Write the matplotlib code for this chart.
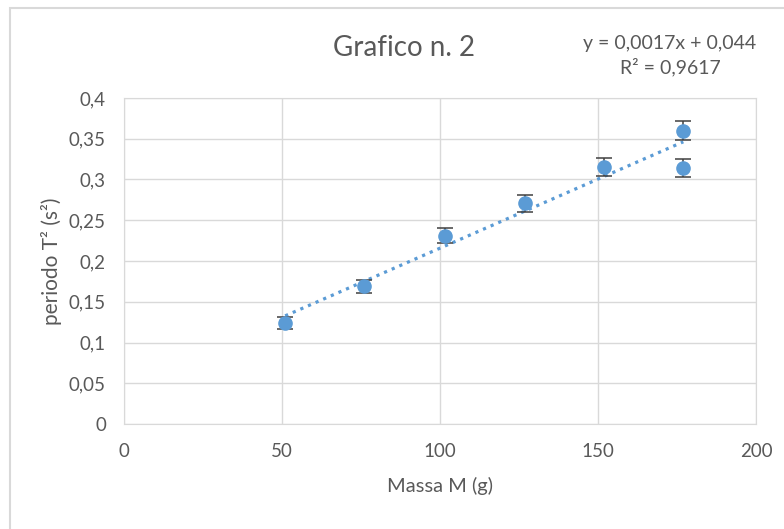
import matplotlib
matplotlib.use("Agg")
import matplotlib.pyplot as plt
from matplotlib.patches import Rectangle
from matplotlib.ticker import FuncFormatter, MultipleLocator
import numpy as np

# data
massa = [51, 76, 101.5, 127, 152, 177, 177]
periodo_sq = [0.124, 0.169, 0.231, 0.271, 0.315, 0.360, 0.314]
errore = [0.007, 0.008, 0.0095, 0.0105, 0.011, 0.012, 0.011]

title = "Grafico n. 2"
eq_text = "y = 0,0017x + 0,044\nR² = 0,9617"
xlabel = "Massa M (g)"
ylabel = "periodo T² (s²)"

blue = "#5B9BD5"
grid_col = "#d9d9d9"
text_col = "#595959"

plt.rcParams["font.family"] = ["Lato", "DejaVu Sans"]

fig = plt.figure(figsize=(7.84, 5.29), dpi=100)
W, H = 784, 529
ax = fig.add_axes([124 / W, 1 - 424 / H, (756 - 124) / W, (424 - 98) / H])

# chart border (Excel style)
fig.patches.append(Rectangle((10 / W, -0.1), 1.2, 1 - 8 / H + 0.1,
                             transform=fig.transFigure, fill=False,
                             edgecolor=grid_col, linewidth=1.5))

# trendline
coef = np.polyfit(massa, periodo_sq, 1)
xs = np.array([min(massa), max(massa)])
ax.plot(xs, np.polyval(coef, xs), linestyle=(0, (1, 1.6)), color=blue,
        linewidth=2.3, zorder=2)

ax.errorbar(massa, periodo_sq, yerr=errore, fmt="o", color=blue,
            markersize=9.5, ecolor="#404040", elinewidth=1.1, capsize=6,
            capthick=1.1, zorder=3)

ax.set_xlim(0, 200)
ax.set_ylim(0, 0.4)
ax.xaxis.set_major_locator(MultipleLocator(50))
ax.yaxis.set_major_locator(MultipleLocator(0.05))
ax.yaxis.set_major_formatter(FuncFormatter(lambda v, p: f"{v:.2f}".rstrip("0").rstrip(".").replace(".", ",")))
ax.grid(True, color=grid_col, linewidth=1)
ax.set_axisbelow(True)
for s in ax.spines.values():
    s.set_color(grid_col)
ax.tick_params(length=0, labelsize=13.5, labelcolor=text_col)
ax.tick_params(axis="y", pad=13)
ax.tick_params(axis="x", pad=14)

ax.set_xlabel(xlabel, fontsize=14.5, color=text_col, labelpad=12)
ax.set_ylabel(ylabel, fontsize=15, color=text_col, labelpad=5)

fig.text(404 / W, 1 - 48 / H, title, fontsize=20, color=text_col,
         ha="center", va="center")
fig.text(670 / W, 1 - 56 / H, eq_text, fontsize=14, color=text_col,
         ha="center", va="center", linespacing=1.35)

fig.savefig("out.png", dpi=100)
